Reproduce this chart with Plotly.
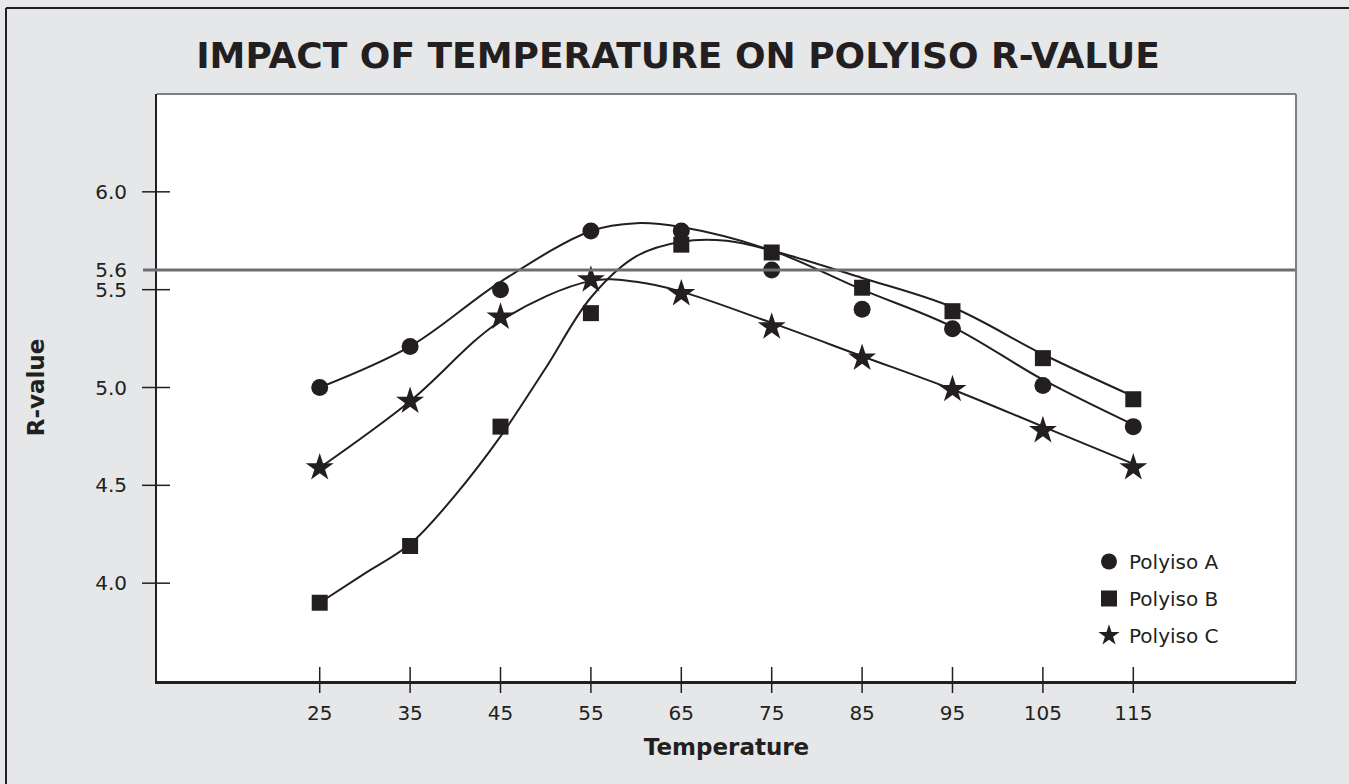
import plotly.graph_objects as go

# ---------------- data ----------------
temps = [25, 35, 45, 55, 65, 75, 85, 95, 105, 115]
polyiso_a = [5.00, 5.21, 5.50, 5.80, 5.80, 5.60, 5.40, 5.30, 5.01, 4.80]
polyiso_b = [3.90, 4.19, 4.80, 5.38, 5.73, 5.69, 5.51, 5.39, 5.15, 4.94]
polyiso_c = [4.59, 4.93, 5.36, 5.55, 5.48, 5.31, 5.15, 4.99, 4.78, 4.59]

# fitted curves
curve_a_x = [25, 35, 45, 55, 60, 65, 75, 85, 95, 105, 115]
curve_a_y = [5.00, 5.21, 5.54, 5.80, 5.84, 5.82, 5.70, 5.50, 5.31, 5.04, 4.81]
curve_b_x = [25, 30, 35, 40, 45, 50, 55, 60, 65, 70, 75, 85, 95, 105, 115]
curve_b_y = [3.90, 4.05, 4.20, 4.45, 4.75, 5.10, 5.46, 5.67, 5.745, 5.75, 5.70, 5.56, 5.41, 5.17, 4.955]
curve_c_x = [25, 35, 45, 55, 60, 65, 75, 85, 95, 105, 115]
curve_c_y = [4.59, 4.93, 5.34, 5.545, 5.54, 5.49, 5.33, 5.16, 4.99, 4.80, 4.61]

series_names = ["Polyiso A", "Polyiso B", "Polyiso C"]
ref_value = 5.6
y_ticks = [4.0, 4.5, 5.0, 5.5, 5.6, 6.0]
y_tick_text = ["4.0", "4.5", "5.0", "5.5", "5.6", "6.0"]
y_mark_ticks = [4.0, 4.5, 5.0, 5.5, 6.0]
x_ticks = temps

# ---------------- style ----------------
INK = "#231f20"
GRAY = "#6d6e71"
BG = "#e6e7e8"
FONT = "DejaVu Sans"

W, H = 1349, 784
ML, MR, MT, MB = 157, 53, 94, 103
PW, PH = W - ML - MR, H - MT - MB

def px_x(px):
    return (px - ML) / PW

def px_y(py):
    return (H - MB - py) / PH

fig = go.Figure()

curves = [(curve_a_x, curve_a_y), (curve_b_x, curve_b_y), (curve_c_x, curve_c_y)]
for cx, cy in curves:
    fig.add_trace(go.Scatter(
        x=cx, y=cy, mode="lines", line=dict(color=INK, width=2, shape="spline", smoothing=1.0),
        showlegend=False, hoverinfo="skip"))

symbols = ["circle", "square", "star"]
sizes = [17, 16, 21]
for i, (vals, sym, sz) in enumerate(zip([polyiso_a, polyiso_b, polyiso_c], symbols, sizes)):
    fig.add_trace(go.Scatter(
        x=temps, y=vals, mode="markers", name=series_names[i],
        legendgroup=series_names[i],
        marker=dict(symbol=sym, size=sz, color=INK, line=dict(width=0))))

shapes = [
    # reference line at 5.6
    dict(type="line", xref="paper", yref="y", x0=px_x(143), x1=1, y0=ref_value, y1=ref_value,
         line=dict(color=GRAY, width=3), layer="above"),
    # top & right frame of plot area (gray)
    dict(type="line", xref="paper", yref="paper", x0=0, x1=1, y0=1, y1=1,
         line=dict(color="#7f8083", width=2), layer="above"),
    dict(type="line", xref="paper", yref="paper", x0=1, x1=1, y0=0, y1=1,
         line=dict(color="#7f8083", width=2), layer="above"),
    # outer border of the figure (top and left)
    dict(type="line", xref="paper", yref="paper", x0=px_x(6), x1=px_x(W + 10), y0=px_y(8), y1=px_y(8),
         line=dict(color=INK, width=2)),
    dict(type="line", xref="paper", yref="paper", x0=px_x(6), x1=px_x(6), y0=px_y(8), y1=px_y(H + 10),
         line=dict(color=INK, width=2)),
]
# tick marks crossing the axes
for t in x_ticks:
    shapes.append(dict(type="line", xref="x", yref="paper", x0=t, x1=t,
                       y0=px_y(693), y1=px_y(667), line=dict(color=INK, width=1.5), layer="above"))
for t in y_mark_ticks:
    shapes.append(dict(type="line", xref="paper", yref="y", x0=px_x(142), x1=px_x(170),
                       y0=t, y1=t, line=dict(color=INK, width=1.5), layer="above"))

fig.update_layout(
    width=W, height=H,
    paper_bgcolor=BG, plot_bgcolor="white",
    margin=dict(l=ML, r=MR, t=MT, b=MB, pad=0),
    font=dict(family=FONT, color=INK),
    title=dict(text="<b>IMPACT OF TEMPERATURE ON POLYISO R-VALUE</b>",
               font=dict(family=FONT, size=36, color=INK),
               x=(678 / W), xanchor="center", xref="container", y=1 - 55 / H, yanchor="middle"),
    xaxis=dict(range=[7, 133], tickvals=x_ticks, ticktext=[str(t) for t in x_ticks],
               ticks="", showline=True, linecolor=INK, linewidth=2.5, showgrid=False, zeroline=False,
               tickfont=dict(family=FONT, size=20, color=INK), ticklabelstandoff=12,
               title=dict(text="<b>Temperature</b>", font=dict(family=FONT, size=23, color=INK), standoff=16),
               fixedrange=True),
    yaxis=dict(range=[3.5, 6.5], tickvals=y_ticks, ticktext=y_tick_text,
               ticks="", showline=True, linecolor=INK, linewidth=2, showgrid=False, zeroline=False,
               tickfont=dict(family=FONT, size=20, color=INK), ticklabelstandoff=24,
               title=dict(text="<b>R-value</b>", font=dict(family=FONT, size=23, color=INK), standoff=44),
               fixedrange=True),
    legend=dict(x=px_x(1089), y=px_y(542), xanchor="left", yanchor="top",
                bgcolor="rgba(0,0,0,0)", font=dict(family=FONT, size=20, color=INK),
                tracegroupgap=8, itemwidth=30),
    shapes=shapes,
    showlegend=True,
)

fig.write_html("out.html", include_plotlyjs=True, full_html=True,
               config={"displayModeBar": False},
               post_script="document.body.style.margin='0';document.body.style.overflow='hidden';")
